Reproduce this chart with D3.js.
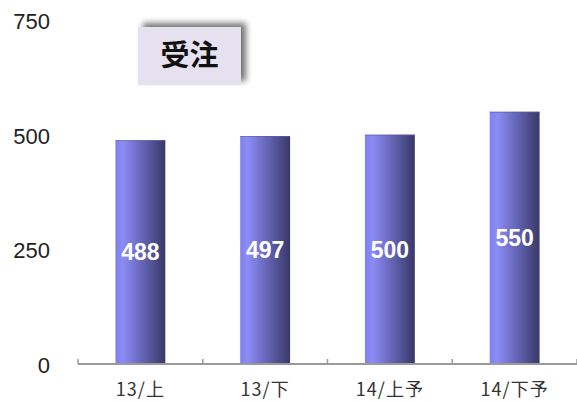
<!DOCTYPE html>
<html><head><meta charset="utf-8">
<script src="https://cdn.jsdelivr.net/npm/d3@7"></script>
<style>
html,body{margin:0;padding:0;background:#fff;}
svg{display:block;}
</style></head>
<body>
<svg id="chart" width="577" height="401"></svg>
<script>
const categories = ["13/上", "13/下", "14/上予", "14/下予"];
const values = [488, 497, 500, 550];
const yTicks = [0, 250, 500, 750];
const title = "受注";

const svg = d3.select("#chart");
const axisY = 364, topY = 20, left = 78, right = 577;

const x = d3.scaleBand().domain(categories).range([left, right]).paddingInner(0.6).paddingOuter(0.3);
const y = d3.scaleLinear().domain([0, 750]).range([axisY, topY]);

const defs = svg.append("defs");
const grad = defs.append("linearGradient").attr("id", "barGrad").attr("x1", "0").attr("x2", "1").attr("y1", "0").attr("y2", "0");
grad.append("stop").attr("offset", "0%").attr("stop-color", "#8080ee");
grad.append("stop").attr("offset", "15%").attr("stop-color", "#8c8cf6");
grad.append("stop").attr("offset", "55%").attr("stop-color", "#6464b4");
grad.append("stop").attr("offset", "100%").attr("stop-color", "#383868");

const sh = defs.append("filter").attr("id", "shadow").attr("x", "-30%").attr("y", "-50%").attr("width", "160%").attr("height", "200%");
sh.append("feGaussianBlur").attr("in", "SourceAlpha").attr("stdDeviation", 3).attr("result", "b");
sh.append("feOffset").attr("in", "b").attr("dx", 5).attr("dy", -4).attr("result", "o");
sh.append("feComponentTransfer").attr("in", "o").attr("result", "o2")
  .append("feFuncA").attr("type", "linear").attr("slope", 0.55);
const m = sh.append("feMerge");
m.append("feMergeNode").attr("in", "o2");
m.append("feMergeNode").attr("in", "SourceGraphic");

// Y tick labels
svg.append("g").selectAll("text").data(yTicks).join("text")
  .attr("x", 50).attr("y", d => y(d) + 1)
  .attr("dy", "0.36em")
  .attr("text-anchor", "end")
  .attr("font-family", "Liberation Sans, Arial, sans-serif")
  .attr("font-size", 22)
  .attr("fill", "#222")
  .text(d => d);

// Bars
svg.append("g").selectAll("rect").data(values).join("rect")
  .attr("x", (d, i) => x(categories[i]))
  .attr("y", d => y(d))
  .attr("width", x.bandwidth())
  .attr("height", d => y(0) - y(d))
  .attr("fill", "url(#barGrad)");

// Bar top edge darker
svg.append("g").selectAll("line").data(values).join("line")
  .attr("x1", (d, i) => x(categories[i]))
  .attr("x2", (d, i) => x(categories[i]) + x.bandwidth())
  .attr("y1", d => y(d) + 0.5).attr("y2", d => y(d) + 0.5)
  .attr("stroke", "#5a5aa0").attr("stroke-width", 1).attr("opacity", 0.6);

// Value labels
svg.append("g").selectAll("text").data(values).join("text")
  .attr("x", (d, i) => x(categories[i]) + x.bandwidth() / 2)
  .attr("y", d => (y(d) + y(0)) / 2)
  .attr("dy", "0.36em")
  .attr("text-anchor", "middle")
  .attr("font-family", "Liberation Sans, Arial, sans-serif")
  .attr("font-weight", "bold")
  .attr("font-size", 23)
  .attr("fill", "#fff")
  .text(d => d);

// X axis line and ticks
const step = x.step();
svg.append("line").attr("x1", left).attr("x2", right).attr("y1", axisY).attr("y2", axisY)
  .attr("stroke", "#9a9a9a").attr("stroke-width", 2);
const tickPos = d3.range(categories.length + 1).map(i => left + i * step);
svg.append("g").selectAll("line").data(tickPos).join("line")
  .attr("x1", d => d).attr("x2", d => d)
  .attr("y1", axisY).attr("y2", axisY - 5)
  .attr("stroke", "#9a9a9a").attr("stroke-width", 1.5);

// Category labels
svg.append("g").selectAll("text").data(categories).join("text")
  .attr("x", d => x(d) + x.bandwidth() / 2)
  .attr("y", 390)
  .attr("dy", "0.36em")
  .attr("text-anchor", "middle")
  .attr("font-family", "Noto Sans CJK JP, sans-serif")
  .attr("font-size", 18)
  .attr("letter-spacing", 1)
  .attr("fill", "#333")
  .text(d => d);

// Title box
const tb = svg.append("g");
tb.append("rect").attr("x", 138).attr("y", 27).attr("width", 103).attr("height", 58)
  .attr("fill", "#e6e1ef").attr("filter", "url(#shadow)");
tb.append("text").attr("x", 189.5).attr("y", 56).attr("dy", "0.36em")
  .attr("text-anchor", "middle")
  .attr("font-family", "Noto Sans CJK JP, sans-serif")
  .attr("font-weight", "bold")
  .attr("font-size", 29)
  .attr("fill", "#111")
  .text(title);
</script>
</body></html>
